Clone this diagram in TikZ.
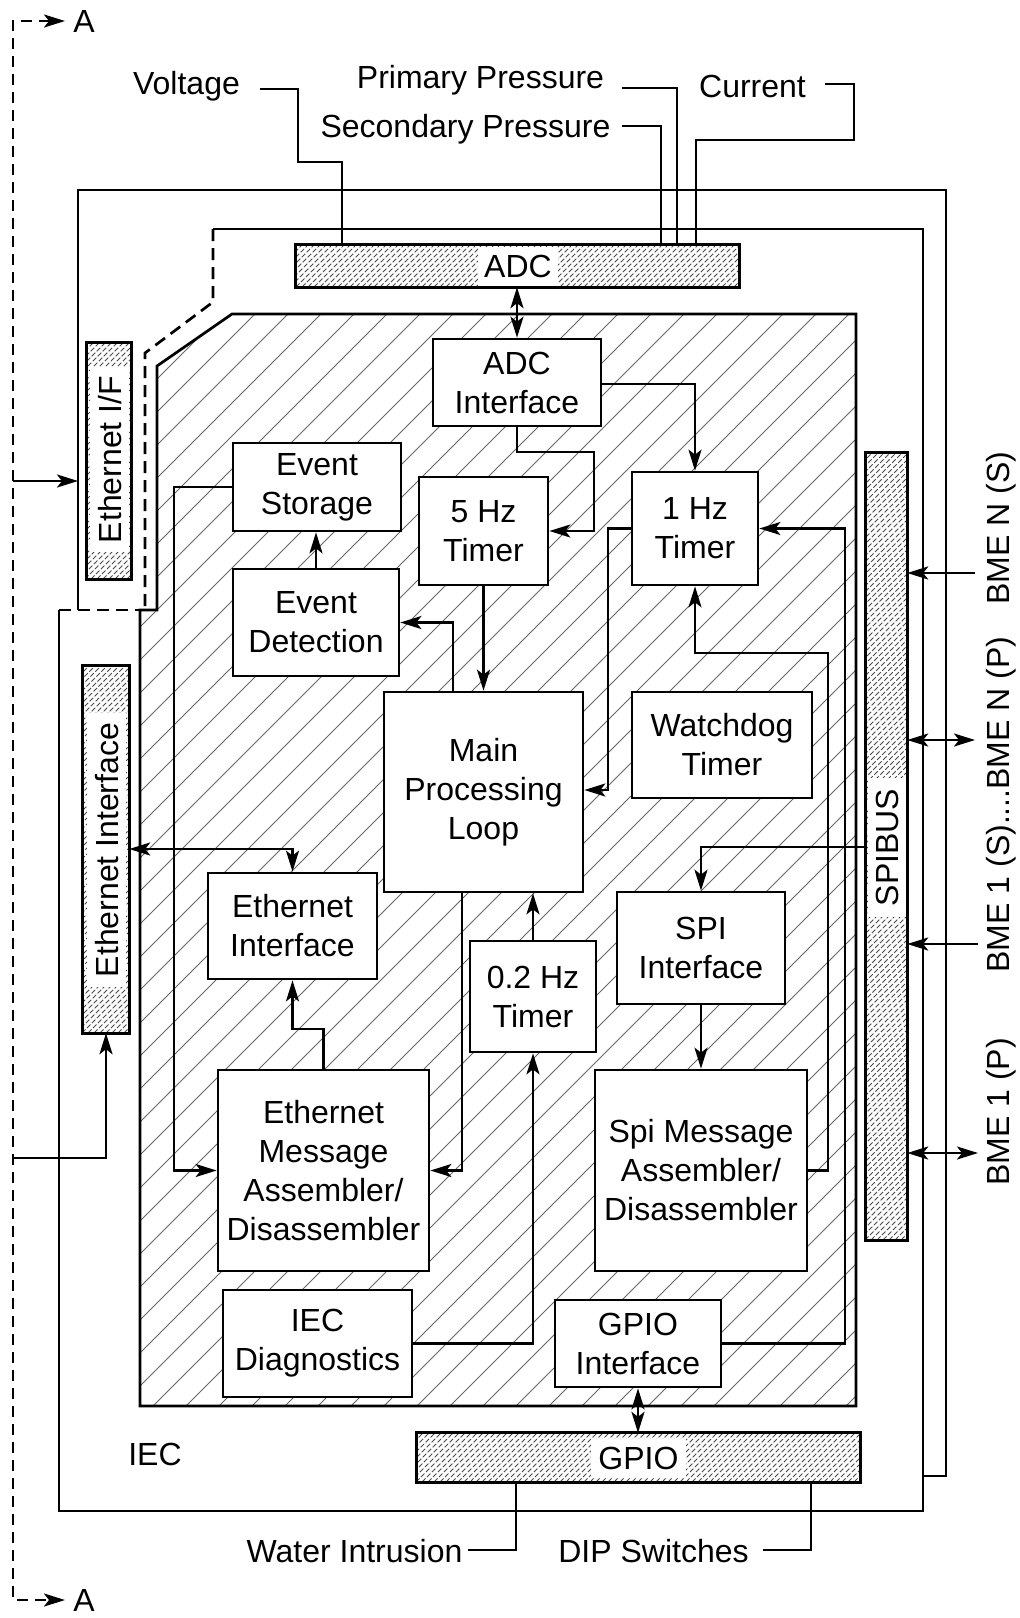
\documentclass[tikz,border=0pt]{standalone}
\usepackage{fontspec}
\setmainfont{Liberation Sans}
\usetikzlibrary{arrows.meta}
\newcommand\fs{\fontsize{32pt}{39pt}\selectfont}
\newcommand\finehatch[4]{%
  \begin{scope}
  \clip (#1,#2) rectangle (#3,#4);
  \pgfmathsetmacro\hh{#4-#2}
  \pgfmathsetmacro\hs{#1-\hh}
  \pgfmathsetmacro\hn{\hs+6}
  \foreach \i in {\hs,\hn,...,#3} \draw[fineh] (\i,#4) -- ++(\hh,-\hh);
  \end{scope}}
\tikzset{
  tip/.tip={Stealth[length=21pt,width=13pt,inset=5pt]},
  box/.style={draw, line width=2.7pt, fill=white, align=center, inner sep=0pt, font=\fs},
  bar/.style={inner sep=0pt},
  barline/.style={line width=2.7pt},
  conn/.style={line width=2.5pt},
  arr/.style={conn, -tip},
  darr/.style={conn, tip-tip},
  lbl/.style={inner sep=0pt, text height=23pt, text depth=0pt, font=\fs},
  bartext/.style={lbl, fill=white, inner ysep=8pt},
  mainh/.style={line width=0.9pt, black!60},
  fineh/.style={line width=0.8pt, black!70, dash pattern=on 5pt off 2pt},
  myframe/.style={line width=2.7pt},
  mydframe/.style={line width=2.7pt, dash pattern=on 12pt off 7pt},
  mydashl/.style={line width=2.4pt, dash pattern=on 11pt off 7pt},
}
\begin{document}
\begin{tikzpicture}[x=1pt,y=-1pt]
\useasboundingbox (0,0) rectangle (1020,1618);
\fill[white] (0,0) rectangle (1020,1618);

% main hatched processor region
\begin{scope}
\clip (232,314) -- (856,314) -- (856,1406) -- (140,1406) -- (140,610) -- (157,610) -- (157,366) -- cycle;
\foreach \i in {-983,-950,...,900} \draw[mainh] (\i,1420) -- ++(1120,-1120);
\end{scope}
\draw[myframe] (232,314) -- (856,314) -- (856,1406) -- (140,1406) -- (140,610) -- (157,610) -- (157,366) -- cycle;

% enclosures
\draw[myframe] (78,610) -- (78,190) -- (946,190) -- (946,1476) -- (923,1476);
\draw[myframe] (213,229) -- (923,229) -- (923,1511) -- (59,1511) -- (59,610);
\draw[mydframe] (59,610) -- (140,610);
\draw[mydframe] (213,229) -- (213,302) -- (145,353) -- (145,610);

% bars
\node[bar, minimum width=443, minimum height=42] (adc) at (517.5,266) {};
\finehatch{296}{245}{739}{287}
\node[bartext, inner xsep=6pt] (adct) at (518,266) {ADC};
\draw[barline] (adc.north west) rectangle (adc.south east);

\node[bar, minimum width=443, minimum height=49] (gpio) at (638.5,1457.5) {};
\finehatch{417}{1433}{860}{1482}
\node[bartext, inner xsep=7.5pt] (gpiot) at (638.5,1458) {GPIO};
\draw[barline] (gpio.north west) rectangle (gpio.south east);

\node[bar, minimum width=41, minimum height=787] (spibus) at (886.5,846.5) {};
\finehatch{866}{453}{907}{1240}
\node[bartext, rotate=90, inner xsep=11pt] (spibust) at (887,847.5) {SPIBUS};
\draw[barline] (spibus.north west) rectangle (spibus.south east);

\node[bar, minimum width=44, minimum height=236] (ethif) at (109,461) {};
\finehatch{87}{343}{131}{579}
\node[bartext, rotate=90, inner xsep=9pt] (ethift) at (109.5,459.5) {Ethernet I/F};
\draw[barline] (ethif.north west) rectangle (ethif.south east);

\node[bar, minimum width=46, minimum height=367] (ethint) at (106,849.5) {};
\finehatch{83}{666}{129}{1033}
\node[bartext, rotate=90, inner xsep=10pt] (ethintt) at (106.5,850) {Ethernet Interface};
\draw[barline] (ethint.north west) rectangle (ethint.south east);

% boxes
\node[box, minimum width=168, minimum height=87] (adcif) at (517,382.5) {ADC\\Interface};
\node[box, minimum width=168, minimum height=88] (es) at (317,487) {Event\\Storage};
\node[box, minimum width=166, minimum height=107] (ed) at (316,622.5) {Event\\Detection};
\node[box, minimum width=129, minimum height=108] (t5) at (483.5,531) {5 Hz\\Timer};
\node[box, minimum width=126, minimum height=113] (t1) at (695,528.5) {1 Hz\\Timer};
\node[box, minimum width=180, minimum height=106] (wd) at (722,745) {Watchdog\\Timer};
\node[box, minimum width=199, minimum height=200] (mpl) at (483.5,792) {Main\\Processing\\Loop};
\node[box, minimum width=169, minimum height=106] (ei) at (292.5,926) {Ethernet\\Interface};
\node[box, minimum width=126, minimum height=111] (t02) at (533,996.5) {0.2 Hz\\Timer};
\node[box, minimum width=168, minimum height=112] (spi) at (701,948) {SPI\\Interface};
\node[box, minimum width=211, minimum height=201] (ema) at (323.5,1170.5) {Ethernet\\Message\\Assembler/\\Disassembler};
\node[box, minimum width=212, minimum height=201] (sma) at (701,1170.5) {Spi Message\\Assembler/\\Disassembler};
\node[box, minimum width=189, minimum height=107] (iec) at (317.5,1343.5) {IEC\\Diagnostics};
\node[box, minimum width=166, minimum height=87] (gpioif) at (638,1343.5) {GPIO\\Interface};

% internal connectors
\draw[darr] (adcif.north |- adc.south) -- (adcif.north);
\draw[arr] (adcif.east |- 0,384) -| (t1.north);
\draw[arr] (adcif.south) |- (594,452) |- (t5.east);
\draw[arr] (t5.south) -- (mpl.north);
\draw[arr] (t1.west) -| (608,700) |- (mpl.east |- 0,790);
\draw[arr] (gpioif.east) -| (845,900) |- (t1.east);
\draw[arr] (sma.east) -| (828,653) -| (t1.south);
\draw[arr] (ed.north) -- (ed.north |- es.south);
\draw[arr] (mpl.north -| 453,0) |- (ed.east);
\draw[arr] (es.west) -| (174,1000) |- (ema.west);
\draw[arr] (mpl.south -| 462,0) |- (ema.east);
\draw[arr] (ema.north) |- (ei.south |- 0,1029) -- (ei.south);
\draw[darr] (ethint.east |- 0,849) -| (ei.north);
\draw[arr] (t02.north) -- (t02.north |- mpl.south);
\draw[arr] (iec.east) -| (t02.south);
\draw[arr] (spibus.west |- 0,847) -| (spi.north);
\draw[arr] (spi.south) -- (sma.north);
\draw[darr] (gpioif.south) -- (gpioif.south |- gpio.north);

% section line A-A
\node[lbl] (aTop) at (84,21) {A};
\node[lbl] (aBot) at (84,1600) {A};
\coordinate (aT) at (65,21);
\coordinate (aB) at (65,1600);
\draw[mydashl, tip-tip] (aT) -- (13,21) -- (13,1600) -- (aB);

% external inputs on the left
\coordinate (inU) at (13,481);
\coordinate (iecL) at (78,481);
\draw[arr] (inU) -- (iecL);
\coordinate (inL) at (13,1158);
\draw[arr] (inL) -| (ethint.south);

% sensor inputs
\node[lbl] (volt) at (186.5,82.5) {Voltage};
\node[lbl] (ppres) at (480.5,77) {Primary Pressure};
\node[lbl] (spres) at (465.5,126) {Secondary Pressure};
\node[lbl] (curr) at (752.5,86) {Current};
\coordinate (voltS) at (260,89);
\coordinate (ppS) at (622,88);
\coordinate (spS) at (622,126);
\coordinate (curS) at (825,84);
\draw[conn] (voltS) -| (298,162) -| (adc.north -| 342,0);
\draw[conn] (ppS) -| (adc.north -| 677,0);
\draw[conn] (spS) -| (adc.north -| 661,0);
\draw[conn] (curS) -| (854,140) -| (adc.north -| 696,0);

% GPIO inputs
\node[lbl] (water) at (354.5,1551) {Water Intrusion};
\node[lbl] (dip) at (653.5,1551) {DIP Switches};
\coordinate (wiS) at (468,1550);
\coordinate (dipS) at (763,1550);
\draw[conn] (gpio.south -| 516,0) |- (wiS);
\draw[conn] (gpio.south -| 811,0) |- (dipS);

\node[lbl] (ieclbl) at (155,1454) {IEC};

% BME links
\coordinate (bns) at (975,573);
\coordinate (bnp) at (975,740);
\coordinate (b1s) at (978,944);
\coordinate (b1p) at (978,1153);
\draw[arr] (bns) -- (spibus.east |- bns);
\draw[darr] (spibus.east |- bnp) -- (bnp);
\draw[arr] (b1s) -- (spibus.east |- b1s);
\draw[darr] (spibus.east |- b1p) -- (b1p);
\node[lbl, rotate=90] (bmeNS) at (998,528) {BME N (S)};
\node[lbl, rotate=90] (bmeMid) at (998,804.5) {BME 1 (S)....BME N (P)};
\node[lbl, rotate=90] (bme1P) at (998,1112) {BME 1 (P)};
\end{tikzpicture}
\end{document}
